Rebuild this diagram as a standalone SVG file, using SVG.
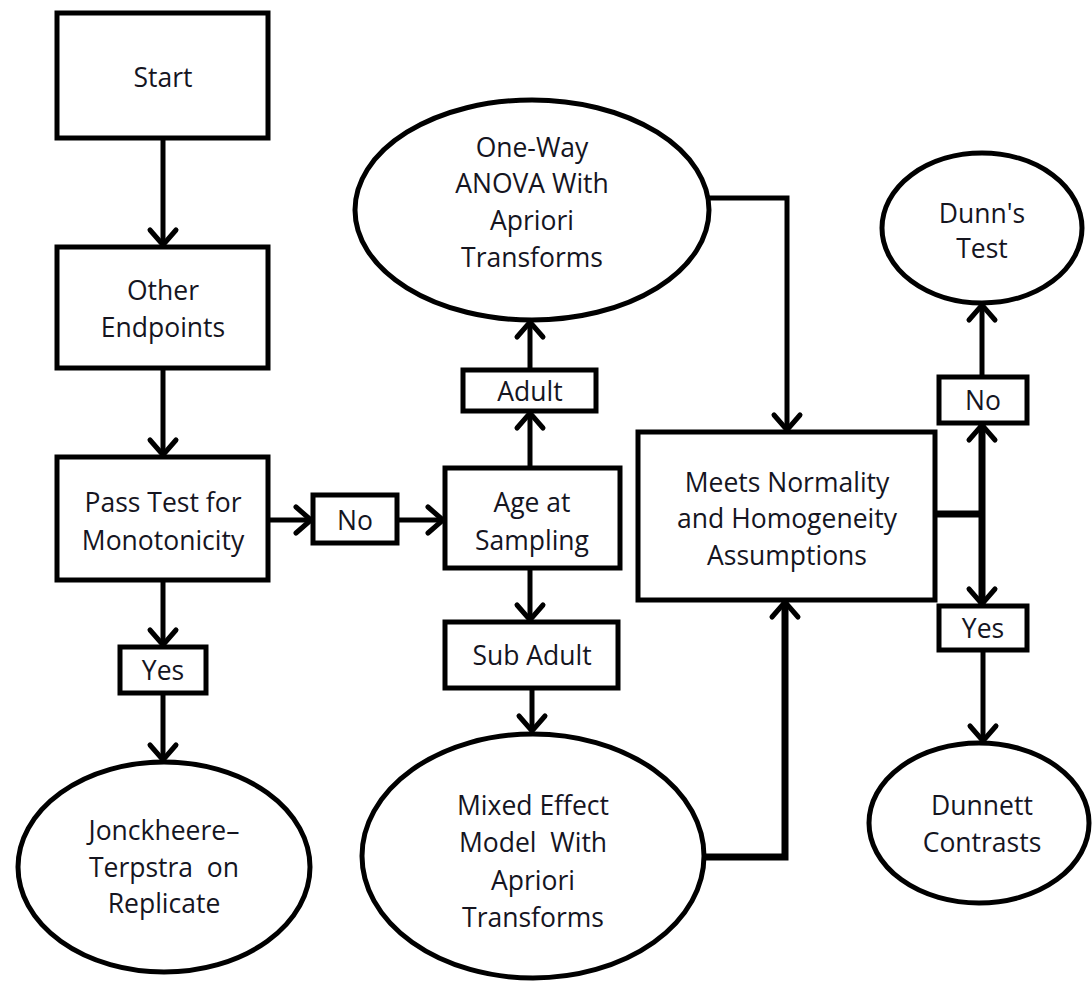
<svg xmlns="http://www.w3.org/2000/svg" width="1092" height="984" viewBox="0 0 1092 984">
<style>
.box{fill:#fff;stroke:#000;stroke-width:5}
.ell{fill:#fff;stroke:#000;stroke-width:5}
.t{font-family:"Open Sans",Lato,"Liberation Sans",sans-serif;font-size:26.5px;fill:#15151f;text-anchor:middle;dominant-baseline:central;white-space:pre}
.c{fill:none;stroke:#000;stroke-width:5;stroke-linejoin:miter}
.ct{fill:none;stroke:#000;stroke-width:7;stroke-linejoin:miter}
</style>
<defs>
<marker id="ah" markerUnits="userSpaceOnUse" markerWidth="40" markerHeight="40" viewBox="-20 -20 40 40" refX="0" refY="0" orient="auto" overflow="visible">
<path d="M-15,-13 L0,0 L-15,13" fill="none" stroke="#000" stroke-width="5" stroke-linecap="round" stroke-linejoin="miter"/>
</marker>
</defs>
<rect width="1092" height="984" fill="#fff"/>
<g id="connectors">
<line class="c" x1="163" y1="138" x2="163" y2="245" marker-end="url(#ah)"/>
<line class="c" x1="163" y1="368" x2="163" y2="455" marker-end="url(#ah)"/>
<line class="c" x1="163" y1="580" x2="163" y2="645" marker-end="url(#ah)"/>
<line class="c" x1="163" y1="693" x2="163" y2="760" marker-end="url(#ah)"/>
<line class="c" x1="267" y1="520" x2="311" y2="520" marker-end="url(#ah)"/>
<line class="c" x1="397" y1="520" x2="443" y2="520" marker-end="url(#ah)"/>
<line class="c" x1="530" y1="468" x2="530" y2="413" marker-end="url(#ah)"/>
<line class="c" x1="530" y1="370" x2="530" y2="322" marker-end="url(#ah)"/>
<line class="c" x1="530" y1="568" x2="530" y2="620" marker-end="url(#ah)"/>
<line class="c" x1="532" y1="688" x2="532" y2="731" marker-end="url(#ah)"/>
<polyline class="c" points="709,198 787,198 787,430" marker-end="url(#ah)"/>
<polyline class="ct" points="702,857 785,857 785,602" marker-end="url(#ah)"/>
<line class="ct" x1="935" y1="514" x2="982" y2="514"/>
<line class="ct" x1="982" y1="514" x2="982" y2="425" marker-end="url(#ah)"/>
<line class="ct" x1="982" y1="514" x2="982" y2="604" marker-end="url(#ah)"/>
<line class="c" x1="982" y1="377" x2="982" y2="305" marker-end="url(#ah)"/>
<line class="c" x1="983" y1="650" x2="983" y2="741" marker-end="url(#ah)"/>
</g>
<g id="start"><rect class="box" x="57" y="13" width="211" height="125"/><text class="t" x="163" y="77">Start</text></g>
<g id="other-endpoints"><rect class="box" x="57" y="247" width="211" height="121"/><text class="t" x="163" y="290">Other</text><text class="t" x="163" y="327">Endpoints</text></g>
<g id="pass-test"><rect class="box" x="57" y="457" width="211" height="123"/><text class="t" x="163" y="502">Pass Test for</text><text class="t" x="163" y="540">Monotonicity</text></g>
<g id="yes-left"><rect class="box" x="120" y="647" width="86" height="46"/><text class="t" x="163" y="670">Yes</text></g>
<g id="jonckheere"><ellipse class="ell" cx="164" cy="867" rx="146" ry="105"/><text class="t" x="164" y="830">Jonckheere–</text><text class="t" x="164" y="867">Terpstra  on</text><text class="t" x="164" y="903">Replicate</text></g>
<g id="no-mid"><rect class="box" x="313" y="495" width="84" height="48"/><text class="t" x="355" y="520">No</text></g>
<g id="age"><rect class="box" x="445" y="468" width="175" height="100"/><text class="t" x="532" y="502">Age at</text><text class="t" x="532" y="540">Sampling</text></g>
<g id="adult"><rect class="box" x="463" y="370" width="133" height="41"/><text class="t" x="530" y="391">Adult</text></g>
<g id="one-way"><ellipse class="ell" cx="532" cy="210" rx="177" ry="110"/><text class="t" x="532" y="147">One-Way</text><text class="t" x="532" y="183">ANOVA With</text><text class="t" x="532" y="220">Apriori</text><text class="t" x="532" y="257">Transforms</text></g>
<g id="sub-adult"><rect class="box" x="445" y="622" width="173" height="66"/><text class="t" x="532" y="655">Sub Adult</text></g>
<g id="mixed"><ellipse class="ell" cx="533" cy="856" rx="171" ry="122"/><text class="t" x="533" y="805">Mixed Effect</text><text class="t" x="533" y="842">Model  With</text><text class="t" x="533" y="880">Apriori</text><text class="t" x="533" y="917">Transforms</text></g>
<g id="meets"><rect class="box" x="638" y="432" width="297" height="168"/><text class="t" x="787" y="482">Meets Normality</text><text class="t" x="787" y="518">and Homogeneity</text><text class="t" x="787" y="555">Assumptions</text></g>
<g id="no-right"><rect class="box" x="939" y="377" width="88" height="46"/><text class="t" x="983" y="400">No</text></g>
<g id="yes-right"><rect class="box" x="939" y="606" width="88" height="44"/><text class="t" x="983" y="628">Yes</text></g>
<g id="dunns"><ellipse class="ell" cx="982" cy="228" rx="100" ry="75"/><text class="t" x="982" y="213">Dunn's</text><text class="t" x="982" y="248">Test</text></g>
<g id="dunnett"><ellipse class="ell" cx="979" cy="823" rx="110" ry="80"/><text class="t" x="982" y="805">Dunnett</text><text class="t" x="982" y="842">Contrasts</text></g>
</svg>
